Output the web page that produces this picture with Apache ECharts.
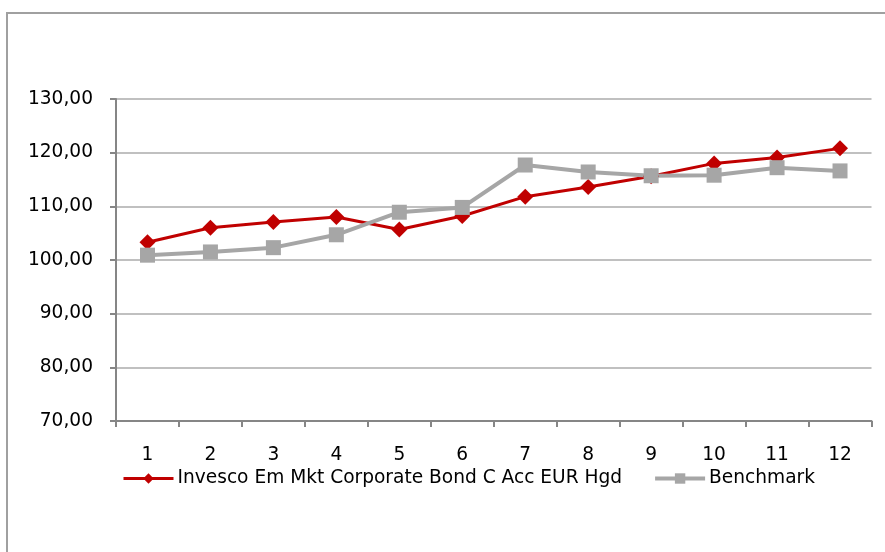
<!DOCTYPE html>
<html>
<head>
<meta charset="utf-8">
<script src="https://cdn.jsdelivr.net/npm/echarts@6/dist/echarts.min.js"></script>
<style>
  html, body { margin: 0; padding: 0; background: #fff; }
  #chart { width: 885px; height: 552px; }
</style>
</head>
<body>
<div id="chart"></div>
<script>
const months = ["1", "2", "3", "4", "5", "6", "7", "8", "9", "10", "11", "12"];
const fundName = "Invesco Em Mkt Corporate Bond C Acc EUR Hgd";
const benchName = "Benchmark";
const fundValues = [103.3, 106.0, 107.1, 108.0, 105.7, 108.2, 111.8, 113.6, 115.6, 118.0, 119.1, 120.8];
const benchValues = [100.9, 101.5, 102.3, 104.7, 108.9, 109.8, 117.7, 116.4, 115.7, 115.8, 117.2, 116.6];

const font = "DejaVu Sans";
const fontSize = 18.6;

function formatValue(value) {
  return value.toFixed(2).replace(".", ",");
}

const chart = echarts.init(document.getElementById("chart"));

chart.setOption({
  animation: false,
  backgroundColor: "#fff",
  textStyle: { fontFamily: font, color: "#000" },
  graphic: [
    {
      type: "rect",
      z: -1,
      shape: { x: 7, y: 13, width: 900, height: 600 },
      style: { fill: "none", stroke: "#a0a0a0", lineWidth: 2 },
    },
  ],
  grid: { left: 116, right: 13.5, top: 99, height: 322 },
  legend: {
    left: 122,
    top: 469,
    padding: 0,
    itemWidth: 50,
    itemHeight: 13,
    itemGap: 31,
    textStyle: { fontFamily: font, fontSize: fontSize, color: "#000", padding: [0, 0, 0, -1] },
    data: [
      { name: fundName, lineStyle: { width: 3 } },
      { name: benchName, lineStyle: { width: 4 } },
    ],
  },
  xAxis: {
    type: "category",
    data: months,
    boundaryGap: true,
    axisLine: { lineStyle: { color: "#868686", width: 2 } },
    axisTick: { show: true, length: 6, lineStyle: { color: "#868686", width: 2 } },
    axisLabel: { margin: 25, fontSize: fontSize, color: "#000", fontFamily: font },
    splitLine: { show: false },
  },
  yAxis: {
    type: "value",
    min: 70,
    max: 130,
    interval: 10,
    axisLine: { show: true, lineStyle: { color: "#868686", width: 2 } },
    axisTick: { show: true, length: 6, lineStyle: { color: "#868686", width: 2 } },
    axisLabel: { margin: 23, fontSize: fontSize, color: "#000", fontFamily: font, formatter: formatValue },
    splitLine: { lineStyle: { color: "#c0c0c0", width: 2 } },
  },
  series: [
    {
      name: fundName,
      type: "line",
      data: fundValues,
      symbol: "diamond",
      symbolSize: 16,
      lineStyle: { color: "#c00000", width: 3 },
      itemStyle: { color: "#c00000" },
    },
    {
      name: benchName,
      type: "line",
      data: benchValues,
      symbol: "rect",
      symbolSize: 15,
      lineStyle: { color: "#a6a6a6", width: 4 },
      itemStyle: { color: "#a6a6a6" },
    },
  ],
});
</script>
</body>
</html>
